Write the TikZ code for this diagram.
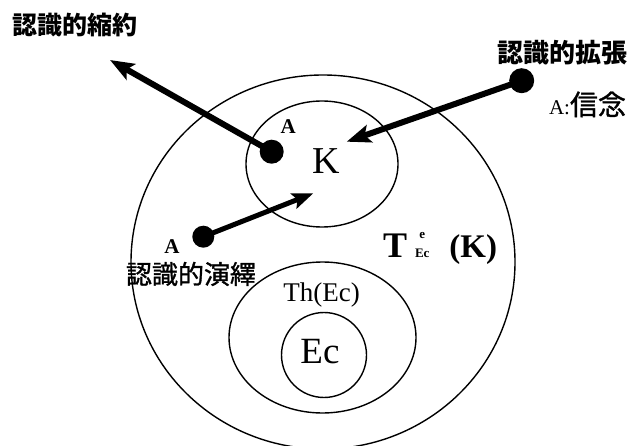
\documentclass[tikz,border=0pt]{standalone}
\usepackage{fontspec}
\setmainfont{Liberation Serif}
\newfontfamily\cjk{Noto Sans CJK JP}
\newfontfamily\cjkm{Noto Sans CJK JP}[FakeBold=1.2]
\usetikzlibrary{arrows.meta,shapes.geometric}
\tikzset{
  ring/.style={draw, ellipse, line width=1.4pt, inner sep=0pt},
  blob/.style={circle, fill=black, inner sep=0pt, minimum size=#1},
  bigarrow/.style={line width=6pt, -{Stealth[length=24pt,width=18pt,inset=5pt]}},
  midarrow/.style={line width=5pt, -{Stealth[length=21pt,width=16pt,inset=4pt]}},
  lbl/.style={inner sep=0pt, outer sep=0pt},
}
\newcommand{\fs}[1]{\fontsize{#1}{#1}\selectfont}
\begin{document}
\begin{tikzpicture}[x=1pt,y=-1pt]
\useasboundingbox (0,0) rectangle (629,446);
\fill[white] (0,0) rectangle (629,446);
% circles
\node[ring, minimum width=384pt, minimum height=374pt] (big) at (323,262) {};
\node[ring, minimum width=152pt, minimum height=126pt] (kc) at (322,164) {};
\node[ring, minimum width=187pt, minimum height=151pt] (th) at (322.5,337.5) {};
\node[ring, minimum width=85pt, minimum height=85pt] (ec) at (324,355) {};
% labels in circles
\node[lbl, anchor=base] (klab) at (326.7,173.3) {\fs{38}K};
\node[lbl, anchor=base] (eclab) at (320,363.3) {\fs{37}Ec};
\node[lbl, anchor=base] (thlab) at (321.7,301.7) {\fs{27}Th(Ec)};
\node[lbl, anchor=base west] (tek) at (383,257.5)
  {\bfseries\fs{36}T\hspace{8pt}\fs{13}\shortstack{e\hspace{6pt}\\[7pt]Ec}\hspace{20pt}\fs{33}(K)};
% A labels
\node[lbl, anchor=base] (a1) at (288.3,133.3) {\fs{21}\bfseries A};
\node[lbl, anchor=base] (a2) at (172,254) {\fs{21}\bfseries A};
\node[lbl, anchor=base west] (a3) at (549,115) {\fs{21}A:\cjkm\fs{28}信念};
% CJK headings
\node[lbl] (shuku) at (75,25) {\cjk\bfseries\fs{25}認識的縮約};
\node[lbl] (kaku) at (562,53) {\cjk\bfseries\fs{26}認識的拡張};
\node[lbl] (en) at (191,274) {\cjkm\fs{26}認識的演繹};
% dots and arrows
\node[blob=24pt] (d1) at (271.7,151.7) {};
\node[blob=25pt] (d2) at (521.7,80.7) {};
\node[blob=22pt] (d3) at (203.3,236.7) {};
\coordinate (t1) at (110,60);
\coordinate (t2) at (346.7,141.7);
\coordinate (t3) at (313.3,193.3);
\draw[bigarrow] (d1.center) -- (t1);
\draw[bigarrow] (d2.center) -- (t2);
\draw[midarrow] (d3.center) -- (t3);
\end{tikzpicture}
\end{document}
